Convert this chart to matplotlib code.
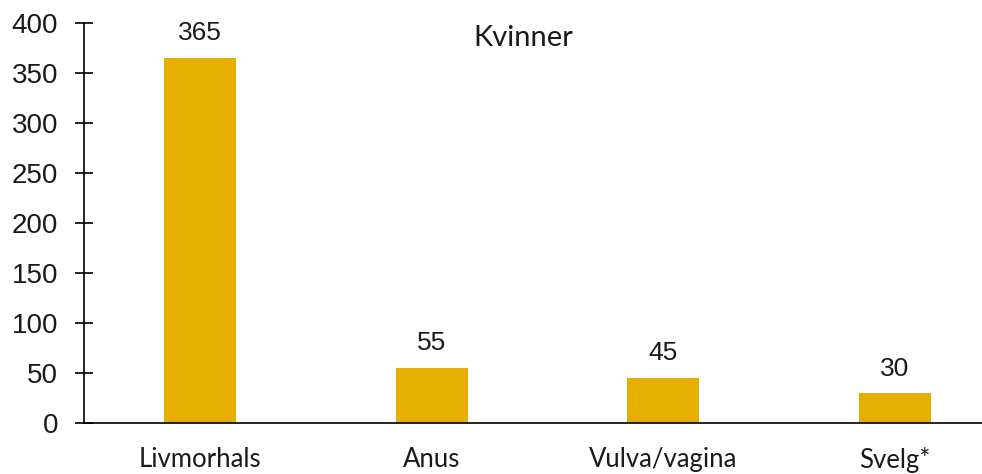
import matplotlib.pyplot as plt
import numpy as np

# data
categories = ['Livmorhals', 'Anus', 'Vulva/vagina', 'Svelg*']
values = [365, 55, 45, 30]
yticks = [0, 50, 100, 150, 200, 250, 300, 350, 400]
TITLE = 'Kvinner'

BAR_COLOR = '#E5AE00'
NUM_FONT = 'Liberation Sans'
CAT_FONT = 'Lato'

fig = plt.figure(figsize=(9.82, 4.74), dpi=100)
ax = fig.add_axes([84/982, 51/474, 1 - 84/982, 400/474])

x = np.arange(len(categories))
ax.bar(x, values, width=0.31, color=BAR_COLOR, zorder=2)

for xi, v in zip(x, values):
    ax.annotate(f'{v}', (xi, v), xytext=(0, 9), textcoords='offset points',
                ha='center', va='bottom', fontsize=19, family=NUM_FONT,
                color='#1a1a1a')

ax.set_xlim(-0.5, 3.375)
ax.set_ylim(0, 400)
ax.set_yticks(yticks)
ax.set_yticklabels([str(t) for t in yticks], family=NUM_FONT, fontsize=20,
                   color='#1a1a1a')
ax.set_xticks(x)
ax.set_xticklabels(categories, family=CAT_FONT, fontsize=18.5, color='#1a1a1a')

ax.tick_params(axis='y', direction='inout', length=13, width=1.2, pad=12)
ax.tick_params(axis='x', length=0, pad=17)
for s in ('top', 'right'):
    ax.spines[s].set_visible(False)
ax.spines['left'].set_linewidth(1.2)
ax.spines['bottom'].set_linewidth(1.2)
ax.spines['bottom'].set_zorder(3)

ax.text(523/982, 1 - 38/474, TITLE, transform=fig.transFigure, ha='center',
        va='center', fontsize=21, family=CAT_FONT, color='#1a1a1a')

fig.savefig('out.png', dpi=100)
